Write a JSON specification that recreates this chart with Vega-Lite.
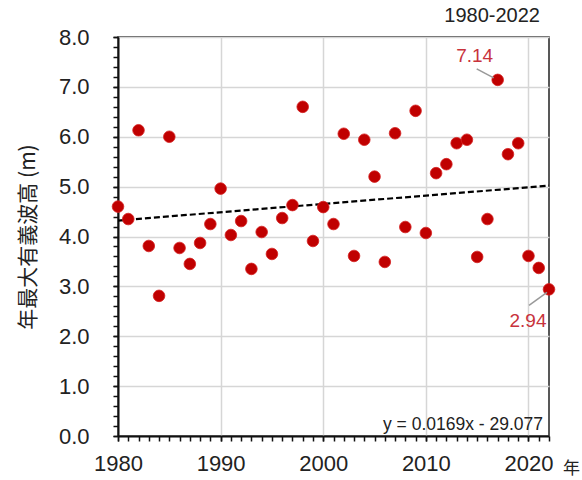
{
  "$schema": "https://vega.github.io/schema/vega-lite/v6.json",
  "width": 431,
  "height": 399,
  "autosize": "none",
  "padding": {"left": 118, "top": 37, "right": 33, "bottom": 44},
  "background": "white",
  "config": {
    "font": "Liberation Sans",
    "view": {"stroke": "#222", "strokeWidth": 1.5}
  },
  "title": {
    "text": "1980-2022",
    "anchor": "end",
    "frame": "group",
    "fontSize": 20,
    "fontWeight": "normal",
    "color": "#222",
    "font": "Liberation Sans",
    "offset": 0,
    "dx": -9
  },
  "datasets": {
    "waves": [
      {"year": 1980, "h": 4.6},
      {"year": 1981, "h": 4.35},
      {"year": 1982, "h": 6.13},
      {"year": 1983, "h": 3.81},
      {"year": 1984, "h": 2.81},
      {"year": 1985, "h": 6.0},
      {"year": 1986, "h": 3.77},
      {"year": 1987, "h": 3.45},
      {"year": 1988, "h": 3.87},
      {"year": 1989, "h": 4.25},
      {"year": 1990, "h": 4.96},
      {"year": 1991, "h": 4.03},
      {"year": 1992, "h": 4.31},
      {"year": 1993, "h": 3.35},
      {"year": 1994, "h": 4.09},
      {"year": 1995, "h": 3.65},
      {"year": 1996, "h": 4.37},
      {"year": 1997, "h": 4.63},
      {"year": 1998, "h": 6.6},
      {"year": 1999, "h": 3.91},
      {"year": 2000, "h": 4.59},
      {"year": 2001, "h": 4.25},
      {"year": 2002, "h": 6.06},
      {"year": 2003, "h": 3.61},
      {"year": 2004, "h": 5.94},
      {"year": 2005, "h": 5.2},
      {"year": 2006, "h": 3.49},
      {"year": 2007, "h": 6.07},
      {"year": 2008, "h": 4.19},
      {"year": 2009, "h": 6.52},
      {"year": 2010, "h": 4.07},
      {"year": 2011, "h": 5.27},
      {"year": 2012, "h": 5.45},
      {"year": 2013, "h": 5.87},
      {"year": 2014, "h": 5.94},
      {"year": 2015, "h": 3.59},
      {"year": 2016, "h": 4.35},
      {"year": 2017, "h": 7.14},
      {"year": 2018, "h": 5.65},
      {"year": 2019, "h": 5.87},
      {"year": 2020, "h": 3.61},
      {"year": 2021, "h": 3.37},
      {"year": 2022, "h": 2.94}
    ],
    "trend": [
      {"year": 1980, "h": 4.32},
      {"year": 2022, "h": 5.02}
    ]
  },
  "resolve": {"axis": {"x": "independent", "y": "independent"}},
  "layer": [
    {
      "data": {"name": "trend"},
      "mark": {"type": "line", "color": "#000", "strokeWidth": 2.2, "strokeDash": [6, 3], "clip": true},
      "encoding": {
        "x": {
          "field": "year",
          "type": "quantitative",
          "scale": {"domain": [1980, 2022], "nice": false, "zero": false},
          "axis": {
            "orient": "bottom",
            "title": "年",
            "titleFont": "Noto Sans CJK JP",
            "titleFontSize": 17,
            "titleFontWeight": "normal",
            "titleColor": "#222",
            "titleX": 453,
            "titleY": 37,
            "titleAlign": "center",
            "titleBaseline": "alphabetic",
            "values": [1980, 1990, 2000, 2010, 2020],
            "format": "d",
            "labelFontSize": 22,
            "labelColor": "#222",
            "labelPadding": 12,
            "labelFlush": false,
            "labelOverlap": false,
            "domainColor": "#111",
            "domainWidth": 2,
            "tickColor": "#111",
            "tickWidth": 1.5,
            "tickSize": 5,
            "grid": true,
            "gridColor": "#d6d6d6",
            "gridWidth": 1.5
          }
        },
        "y": {
          "field": "h",
          "type": "quantitative",
          "scale": {"domain": [0, 8], "nice": false},
          "axis": {
            "orient": "left",
            "title": "年最大有義波高 (m)",
            "titleFont": "Noto Sans CJK JP",
            "titleFontSize": 21,
            "titleFontWeight": "normal",
            "titleColor": "#222",
            "titleX": -90,
            "titleBaseline": "middle",
            "values": [0, 1, 2, 3, 4, 5, 6, 7, 8],
            "format": ".1f",
            "labelFontSize": 22,
            "labelColor": "#222",
            "labelPadding": 24,
            "labelFlush": false,
            "labelOverlap": false,
            "domainColor": "#111",
            "domainWidth": 2,
            "tickColor": "#111",
            "tickWidth": 1.5,
            "tickSize": 5,
            "grid": true,
            "gridColor": "#d6d6d6",
            "gridWidth": 1.5
          }
        }
      }
    },
    {
      "data": {"name": "waves"},
      "mark": {"type": "circle", "size": 135, "color": "#c00000", "opacity": 1, "stroke": "#d42020", "strokeWidth": 0.8},
      "encoding": {
        "x": {
          "field": "year",
          "type": "quantitative",
          "axis": {
            "orient": "bottom",
            "title": null,
            "values": [1980,1981,1982,1983,1984,1985,1986,1987,1988,1989,1990,1991,1992,1993,1994,1995,1996,1997,1998,1999,2000,2001,2002,2003,2004,2005,2006,2007,2008,2009,2010,2011,2012,2013,2014,2015,2016,2017,2018,2019,2020,2021,2022],
            "labels": false,
            "grid": false,
            "domain": false,
            "tickColor": "#111",
            "tickWidth": 1.5,
            "tickSize": 5
          }
        },
        "y": {
          "field": "h",
          "type": "quantitative",
          "axis": {
            "orient": "left",
            "title": null,
            "values": [0,0.2,0.4,0.6,0.8,1,1.2,1.4,1.6,1.8,2,2.2,2.4,2.6,2.8,3,3.2,3.4,3.6,3.8,4,4.2,4.4,4.6,4.8,5,5.2,5.4,5.6,5.8,6,6.2,6.4,6.6,6.8,7,7.2,7.4,7.6,7.8,8],
            "labels": false,
            "grid": false,
            "domain": false,
            "tickColor": "#111",
            "tickWidth": 1.5,
            "tickSize": 5
          }
        }
      }
    },
    {
      "data": {"name": "waves"},
      "transform": [{"filter": "datum.year == 2017"}],
      "mark": {"type": "rule", "color": "#999", "strokeWidth": 1.5, "xOffset": -21, "yOffset": -11, "x2Offset": -4, "y2Offset": -2},
      "encoding": {
        "x": {"field": "year", "type": "quantitative", "axis": null},
        "y": {"field": "h", "type": "quantitative", "axis": null},
        "x2": {"field": "year"},
        "y2": {"field": "h"}
      }
    },
    {
      "data": {"name": "waves"},
      "transform": [{"filter": "datum.year == 2022"}],
      "mark": {"type": "rule", "color": "#999", "strokeWidth": 1.5, "xOffset": -20, "yOffset": 16, "x2Offset": -2, "y2Offset": 3},
      "encoding": {
        "x": {"field": "year", "type": "quantitative", "axis": null},
        "y": {"field": "h", "type": "quantitative", "axis": null},
        "x2": {"field": "year"},
        "y2": {"field": "h"}
      }
    },
    {
      "data": {"name": "waves"},
      "transform": [{"filter": "datum.year == 2017"}],
      "mark": {"type": "text", "color": "#c8323c", "fontSize": 19, "align": "center", "baseline": "alphabetic", "dx": -23, "dy": -18},
      "encoding": {
        "x": {"field": "year", "type": "quantitative", "axis": null},
        "y": {"field": "h", "type": "quantitative", "axis": null},
        "text": {"field": "h", "type": "quantitative", "format": ".2f"}
      }
    },
    {
      "data": {"name": "waves"},
      "transform": [{"filter": "datum.year == 2022"}],
      "mark": {"type": "text", "color": "#c8323c", "fontSize": 19, "align": "center", "baseline": "alphabetic", "dx": -21, "dy": 38},
      "encoding": {
        "x": {"field": "year", "type": "quantitative", "axis": null},
        "y": {"field": "h", "type": "quantitative", "axis": null},
        "text": {"field": "h", "type": "quantitative", "format": ".2f"}
      }
    },
    {
      "data": {"values": [{"eq": "y = 0.0169x - 29.077"}]},
      "mark": {"type": "text", "color": "#222", "fontSize": 17.5, "align": "right", "baseline": "alphabetic", "dx": -6, "dy": -6},
      "encoding": {
        "x": {"datum": 2022, "type": "quantitative", "axis": null},
        "y": {"datum": 0, "type": "quantitative", "axis": null},
        "text": {"field": "eq", "type": "nominal"}
      }
    }
  ]
}
